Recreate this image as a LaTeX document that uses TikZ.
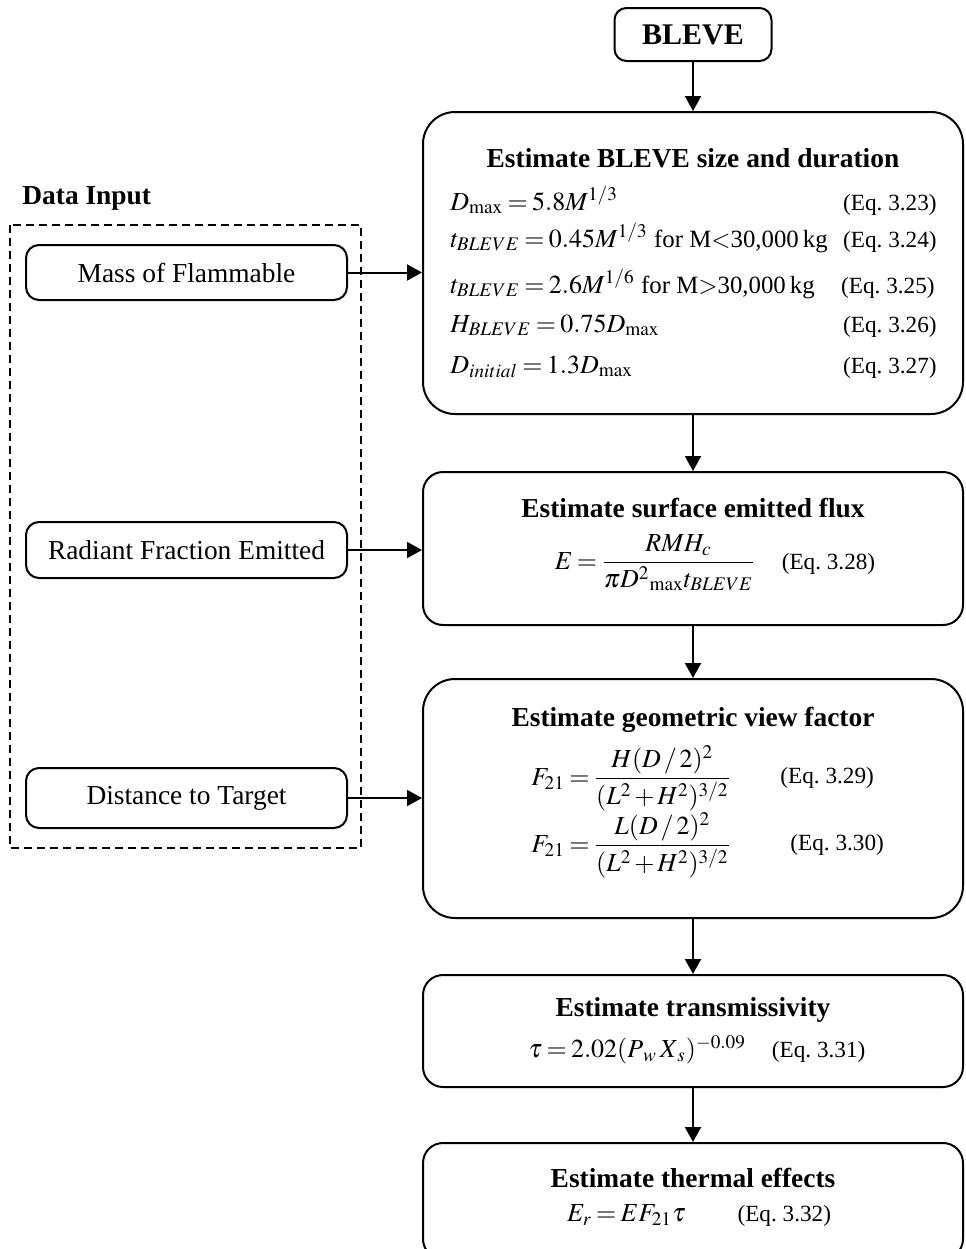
\documentclass[tikz,border=0pt]{standalone}
\usepackage{mathptmx}
\usepackage{fontspec}
\setmainfont{Liberation Serif}
\usetikzlibrary{arrows.meta}
\newcommand{\fs}{\fontsize{13.7}{16}\selectfont}
\newcommand{\es}{\fontsize{13}{15}\selectfont\thickmuskip=3mu plus 2mu\medmuskip=2mu}
\newcommand{\ts}{\fontsize{12.4}{15}\selectfont}
\newcommand{\ls}{\fontsize{11.6}{14}\selectfont}
\newcommand{\tB}{t_{BLEVE}}
\newcommand{\Dm}{D_{\mathrm{max}}}
\newcommand{\eqtag}[1]{{\ls(Eq.~3.#1)}}

\begin{document}
\begin{tikzpicture}[x=0.5pt, y=-0.5pt,
  every node/.style={font=\fs, inner sep=0pt},
  title/.style={font=\fs\bfseries},
  eqn/.style={font=\es},
  stage/.style={draw, line width=1pt, minimum width=270pt},
  input/.style={draw, line width=1pt, rounded corners=6.5pt, minimum width=160.5pt},
  flow/.style={-{Triangle[length=7.5pt,width=8pt]}, line width=1pt}]
  \useasboundingbox (0,0) rectangle (965,1249);

  % start
  \node [draw, line width=1pt, rounded corners=6pt, minimum width=78.5pt,
    minimum height=26.5pt, font=\fontsize{15}{18}\selectfont\bfseries]
    (bleve) at (693,34.5) {BLEVE};

  % calculation stages
  \node [stage, rounded corners=16pt, minimum height=151pt] (size) at (693,263) {};
  \node [stage, rounded corners=10pt, minimum height=76.5pt] (flux) at (693,548.5) {};
  \node [stage, rounded corners=16pt, minimum height=119.5pt] (view) at (693,798.5) {};
  \node [stage, rounded corners=10pt, minimum height=56pt] (trans) at (693,1031) {};
  \node [stage, rounded corners=10pt, minimum height=58pt] (thermal) at (693,1201) {};

  % data input
  \draw [dashed, line width=0.75pt, dash pattern=on 4pt off 2.5pt]
    (10,225) rectangle (361,848);
  \node [title, anchor=west] (datain) at (22,198) {Data Input};
  \node [input, minimum height=27.5pt] (mass) at (186.5,272.5) {Mass of Flammable};
  \node [input, minimum height=28pt] (radiant) at (186.5,550) {Radiant Fraction Emitted};
  \node [input, minimum height=30pt] (distance) at (186.5,798) {Distance to Target};

  % size and duration
  \node [title] (sizet) at (693,158) {Estimate BLEVE size and duration};
  \node [eqn, anchor=base west] (size1) at (450,210) {$\Dm = 5.8M^{1/3}$};
  \node [eqn, anchor=base west] (size2) at (450,247)
    {$\tB = 0.45M^{1/3}$ {\ts for M$<$30,000\,kg}};
  \node [eqn, anchor=base west] (size3) at (450,293)
    {$\tB = 2.6M^{1/6}$ {\ts for M$>$30,000\,kg}};
  \node [eqn, anchor=base west] (size4) at (450,332) {$H_{BLEVE} = 0.75\Dm$};
  \node [eqn, anchor=base west] (size5) at (450,373) {$D_{initial} = 1.3\Dm$};
  \node [anchor=base east] (size1n) at (937,210) {\eqtag{23}};
  \node [anchor=base east] (size2n) at (937,247) {\eqtag{24}};
  \node [anchor=base east] (size3n) at (935,293) {\eqtag{25}};
  \node [anchor=base east] (size4n) at (937,332) {\eqtag{26}};
  \node [anchor=base east] (size5n) at (937,373) {\eqtag{27}};

  % emitted flux
  \node [title] (fluxt) at (693,508) {Estimate surface emitted flux};
  \node [eqn] (flux1) at (715,563)
    {$\displaystyle E = \frac{RMH_c}{\pi D^{2}{}_{\mathrm{max}}\tB}$\quad\eqtag{28}};

  % view factor
  \node [title] (viewt) at (693,720) {Estimate geometric view factor};
  \node [eqn, anchor=west] (view1) at (531,778)
    {$\displaystyle F_{21} = \frac{H(D\,/\,2)^2}{(L^2 + H^2)^{3/2}}$};
  \node [anchor=west] (view1n) at (780,778) {\eqtag{29}};
  \node [eqn, anchor=west] (view2) at (531,845)
    {$\displaystyle F_{21} = \frac{L(D\,/\,2)^2}{(L^2 + H^2)^{3/2}}$};
  \node [anchor=west] (view2n) at (790,845) {\eqtag{30}};

  % transmissivity
  \node [title] (transt) at (693,1010) {Estimate transmissivity};
  \node [eqn] (trans1) at (697,1050)
    {$\tau = 2.02(P_{\mkern3mu w}\,X_{\mkern2mu s})^{-0.09}$\quad\eqtag{31}};

  % thermal effects
  \node [title] (thermalt) at (693,1178) {Estimate thermal effects};
  \node [eqn] (thermal1) at (699,1216) {$E_r = EF_{21}\tau$\qquad\eqtag{32}};

  % connectors
  \draw [flow] (bleve) -- (size);
  \draw [flow] (size) -- (flux);
  \draw [flow] (flux) -- (view);
  \draw [flow] (view) -- (trans);
  \draw [flow] (trans) -- (thermal);
  \draw [flow] (mass.east) -- (mass.east -| size.west);
  \draw [flow] (radiant.east) -- (radiant.east -| flux.west);
  \draw [flow] (distance.east) -- (distance.east -| view.west);
\end{tikzpicture}
\end{document}
